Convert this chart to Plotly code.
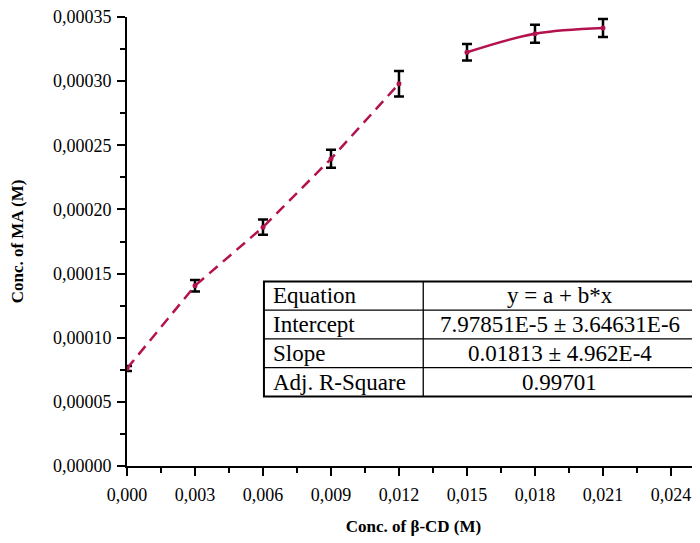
import plotly.graph_objects as go

# linear part (dashed) and plateau part (solid)
x_lin = [0.0, 0.003, 0.006, 0.009, 0.012]
y_lin = [7.6e-5, 1.405e-4, 1.862e-4, 2.395e-4, 2.98e-4]
err_lin = [2.0e-6, 4.5e-6, 6.0e-6, 7.0e-6, 1.0e-5]

x_sat = [0.015, 0.018, 0.021]
y_sat = [3.225e-4, 3.37e-4, 3.415e-4]
err_sat = [6.5e-6, 7.0e-6, 7.0e-6]

x_ticks = [0.000, 0.003, 0.006, 0.009, 0.012, 0.015, 0.018, 0.021, 0.024]
y_ticks = [0.0, 0.00005, 0.0001, 0.00015, 0.0002, 0.00025, 0.0003, 0.00035]

table_rows = ["Equation", "Intercept", "Slope", "Adj. R-Square"]
table_vals = ["y = a + b*x", "7.97851E-5 \u00b1 3.64631E-6", "0.01813 \u00b1 4.962E-4", "0.99701"]

col = "#B3124F"
font = "Liberation Serif, Times New Roman, serif"

fig = go.Figure()
fig.add_trace(go.Scatter(
    x=x_lin, y=y_lin, mode="lines+markers",
    line=dict(color=col, width=2.5, dash="11px,7px"),
    marker=dict(color=col, size=5),
    error_y=dict(type="data", array=err_lin, color="black", thickness=2.5, width=5),
))
fig.add_trace(go.Scatter(
    x=x_sat, y=y_sat, mode="lines+markers",
    line=dict(color=col, width=2.5, shape="spline"),
    marker=dict(color=col, size=5),
    error_y=dict(type="data", array=err_sat, color="black", thickness=2.5, width=5),
))

# table drawn with shapes + annotations in paper coords
tl, tr, tmid = 0.239, 0.993, 0.517
ttop, tbot = 0.411, 0.155
rh = (ttop - tbot) / len(table_rows)
shapes = [dict(type="rect", xref="paper", yref="paper", x0=tl, x1=tr, y0=tbot, y1=ttop,
               line=dict(color="black", width=2), fillcolor="white", layer="above")]
shapes.append(dict(type="line", xref="paper", yref="paper", x0=tmid, x1=tmid, y0=tbot, y1=ttop,
                   line=dict(color="black", width=1.3)))
annotations = []
for i, (name, val) in enumerate(zip(table_rows, table_vals)):
    yc = ttop - rh * (i + 0.5)
    if i > 0:
        shapes.append(dict(type="line", xref="paper", yref="paper", x0=tl, x1=tr,
                           y0=ttop - rh * i, y1=ttop - rh * i, line=dict(color="black", width=1.3)))
    annotations.append(dict(xref="paper", yref="paper", x=tl + 0.012, y=yc, text=name,
                            showarrow=False, xanchor="left", yanchor="middle",
                            font=dict(family=font, size=23, color="black")))
    annotations.append(dict(xref="paper", yref="paper", x=(tmid + tr) / 2, y=yc, text=val,
                            showarrow=False, xanchor="center", yanchor="middle",
                            font=dict(family=font, size=23, color="black")))

# page body has an 8px margin, so margins are shifted by 8px
fig.update_layout(
    width=700, height=543,
    margin=dict(l=119, r=8, t=9, b=85),
    paper_bgcolor="white", plot_bgcolor="white",
    showlegend=False,
    separators=", ",
    font=dict(family=font, size=18, color="black"),
    shapes=shapes, annotations=annotations,
    xaxis=dict(
        range=[0, 0.02528], tickvals=x_ticks, tickformat=".3f", automargin=False,
        showline=True, linecolor="black", linewidth=2, showgrid=False, zeroline=False,
        ticks="outside", ticklen=8, tickwidth=2, tickcolor="black", ticklabelstandoff=3,
        ticklabeloverflow="allow",
        minor=dict(ticks="outside", ticklen=5, tickwidth=2, tickcolor="black", dtick=0.0015, tick0=0),
        title=dict(text="<b>Conc. of \u03b2-CD (M)</b>", font=dict(size=17), standoff=17),
        tickfont=dict(size=18),
    ),
    yaxis=dict(
        range=[0, 0.00035], tickvals=y_ticks, tickformat=".5f", automargin=False,
        showline=True, linecolor="black", linewidth=2, showgrid=False, zeroline=False,
        ticks="outside", ticklen=8, tickwidth=2, tickcolor="black", ticklabelstandoff=2,
        ticklabeloverflow="allow",
        minor=dict(ticks="outside", ticklen=5, tickwidth=2, tickcolor="black", dtick=0.000025, tick0=0),
        title=dict(text="<b>Conc. of MA (M)</b>", font=dict(size=17), standoff=26),
        tickfont=dict(size=18),
    ),
)

fig.write_html("out.html")
